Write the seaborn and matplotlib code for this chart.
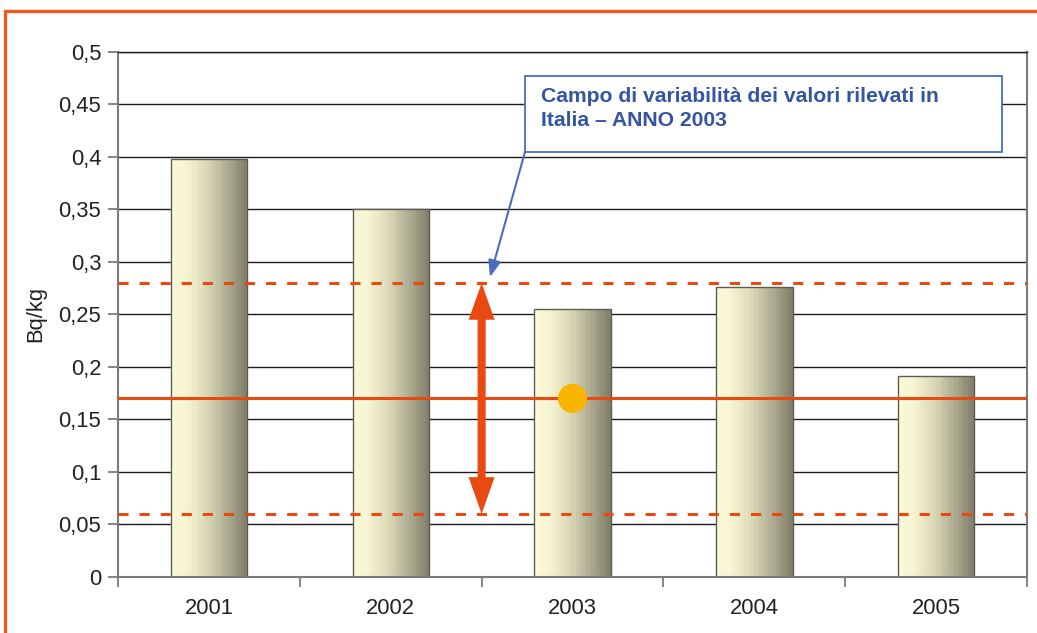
import numpy as np
import pandas as pd
import seaborn as sns
import matplotlib
matplotlib.use("Agg")
import matplotlib.pyplot as plt
from matplotlib.patches import Rectangle, FancyArrowPatch
from matplotlib.colors import LinearSegmentedColormap

# Data
years = ["2001", "2002", "2003", "2004", "2005"]
values = [0.398, 0.350, 0.255, 0.276, 0.191]
national_mean = 0.17          # solid reference line
range_low = 0.06              # lower bound of the 2003 range
range_high = 0.28             # upper bound of the 2003 range
point_year_index = 2          # marker placed on 2003
point_value = 0.17
y_ticks = [0, 0.05, 0.1, 0.15, 0.2, 0.25, 0.3, 0.35, 0.4, 0.45, 0.5]
y_label = "Bq/kg"
note_text = "Campo di variabilità dei valori rilevati in\nItalia – ANNO 2003"

sns.set_theme(style="white")
plt.rcParams["font.family"] = ["Liberation Sans", "DejaVu Sans"]

ORANGE = "#E84A12"
BLUE_TEXT = "#3355A3"
BLUE_EDGE = "#4A6CC0"

fig = plt.figure(figsize=(10.37, 6.33), dpi=100)
ax = fig.add_axes([0.1138, 0.0885, 0.8766, 0.8294])

df = pd.DataFrame({"anno": years, "valore": values})
sns.barplot(data=df, x="anno", y="valore", ax=ax, width=0.42,
            color="#F0EDC8", edgecolor="#5d5c52", linewidth=1.0, zorder=2)

# Horizontal cream-to-olive gradient inside each bar
bar_cmap = LinearSegmentedColormap.from_list(
    "cream", [(0.0, "#FCF9DA"), (0.18, "#F8F5D3"), (0.5, "#D6D4B3"),
              (0.8, "#A4A28A"), (1.0, "#83816B")], N=22)
grad = np.linspace(0, 1, 256).reshape(1, -1)
for patch in list(ax.patches):
    x0, y0 = patch.get_x(), patch.get_y()
    w, h = patch.get_width(), patch.get_height()
    im = ax.imshow(grad, extent=[x0, x0 + w, y0, y0 + h], aspect="auto",
                   cmap=bar_cmap, zorder=2.1, interpolation="nearest")
    im.set_clip_path(patch)
    patch.set_facecolor("none")
    patch.set_zorder(2.2)

ax.set_xlim(-0.5, len(years) - 0.5)
ax.set_ylim(0, 0.5)

# Reference lines
ax.axhline(national_mean, color=ORANGE, lw=2.2, zorder=3)
for lvl in (range_low, range_high):
    ax.axhline(lvl, color=ORANGE, lw=2.2, dashes=(3.3, 3.6), zorder=3)

# Marker for 2003
sns.scatterplot(x=[point_year_index], y=[point_value], ax=ax, s=440,
                color="#F7B500", edgecolor="none", zorder=4, legend=False)

# Double-headed range arrow between 2002 and 2003
arrow_x = point_year_index - 0.5
mid = (range_low + range_high) / 2
for end in (range_high, range_low):
    ax.add_patch(FancyArrowPatch(
        (arrow_x, mid), (arrow_x, end),
        arrowstyle="simple,head_length=26.5,head_width=18.7,tail_width=5.8",
        mutation_scale=1, color=ORANGE, lw=0, shrinkA=0, shrinkB=0, zorder=4))

# Callout box
box_x0, box_x1, box_y0, box_y1 = 1.739, 4.362, 0.405, 0.477
ax.add_patch(Rectangle((box_x0, box_y0), box_x1 - box_x0, box_y1 - box_y0,
                       facecolor="white", edgecolor=BLUE_EDGE, lw=1.3,
                       zorder=5, clip_on=False))
ax.text(1.827, 0.4665, note_text, ha="left", va="top", fontsize=15.2,
        fontweight="bold", color=BLUE_TEXT, linespacing=1.3, zorder=6)
ax.annotate("", xy=(1.546, 0.2857), xytext=(box_x0, box_y0),
            arrowprops=dict(arrowstyle="-|>,head_length=10,head_width=3.8",
                            mutation_scale=1, color=BLUE_EDGE, lw=1.5,
                            shrinkA=0, shrinkB=0),
            zorder=6)

# Axes styling
ax.set_yticks(y_ticks)
ax.set_yticklabels([f"{v:g}".replace(".", ",") for v in y_ticks])
ax.yaxis.grid(True, color="#1c1c1c", lw=1.0)
ax.xaxis.grid(False)
ax.set_axisbelow(True)

ax.set_xticks(range(len(years)))
ax.set_xticklabels(years)
ax.set_xticks([i - 0.5 for i in range(len(years) + 1)], minor=True)
ax.tick_params(axis="x", which="major", length=0, pad=15, labelsize=15.8,
               labelcolor="#222222", bottom=True)
ax.tick_params(axis="x", which="minor", length=7, width=1.2,
               color="#6f6f6f", bottom=True)
ax.tick_params(axis="y", which="major", length=7, width=1.2, color="#6f6f6f",
               left=True, pad=5, labelsize=15.8, labelcolor="#222222")

ax.set_xlabel("")
ax.set_ylabel(y_label, fontsize=15.8, color="#222222", labelpad=9)

for side in ("left", "bottom", "right"):
    ax.spines[side].set_visible(True)
    ax.spines[side].set_color("#7a7a7a")
    ax.spines[side].set_linewidth(1.5)
ax.spines["top"].set_color("#1c1c1c")
ax.spines["top"].set_linewidth(1.0)

# Orange frame around the chart
fig.add_artist(Rectangle((5 / 1037, -0.1), 1.2, 0.1 + 1 - 11 / 633,
                         transform=fig.transFigure, fill=False,
                         edgecolor="#F05A1E", lw=2.4, clip_on=False))

fig.savefig("out.png", dpi=100, facecolor="white")
